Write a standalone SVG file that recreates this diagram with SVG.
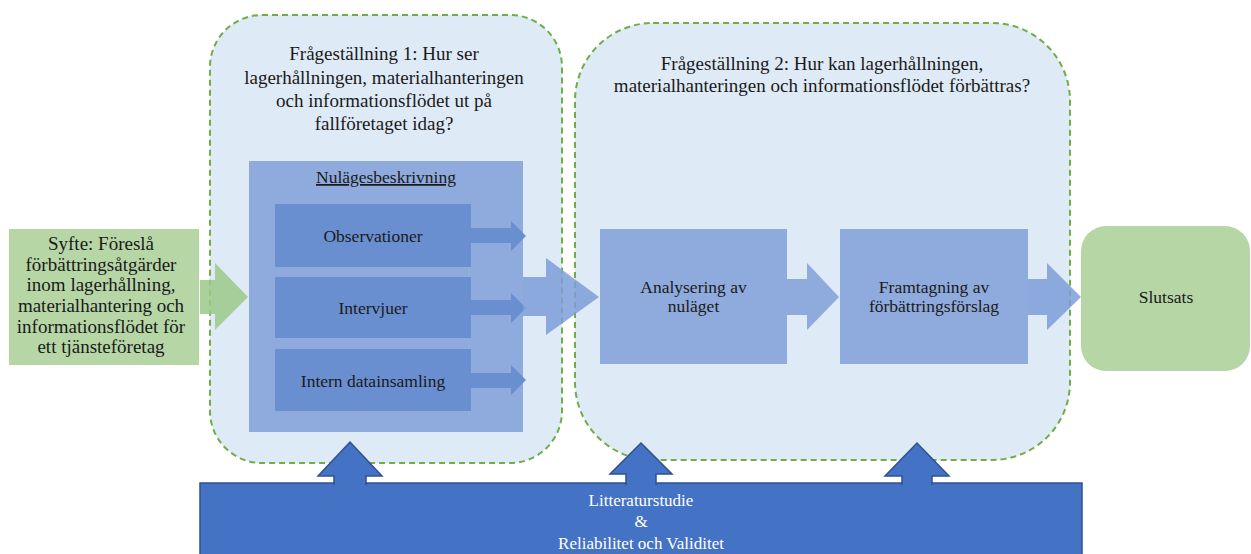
<svg xmlns="http://www.w3.org/2000/svg" width="1251" height="554" viewBox="0 0 1251 554">
<style>
text{font-family:"Liberation Serif","Times New Roman",serif;fill:#1a1a1a;text-anchor:middle}
.t19{font-size:19px}
.t17{font-size:17.5px}
.w{fill:#ffffff;font-size:17px}
.zone{fill:#DEEAF6;stroke:#70AD47;stroke-width:2;stroke-dasharray:6 4}
.mid{fill:#8FAADC}
.dark{fill:#6A8FD0}
.grn{fill:#B6D6A6}
.up{fill:#4472C4;stroke:#2F528F;stroke-width:1.5}
</style>
<rect width="1251" height="554" fill="#ffffff"/>
<g id="zone1"><rect class="zone" x="210" y="15" width="352" height="448" rx="52" ry="52"/>
<text class="t19" x="384" y="60">Frågeställning 1: Hur ser</text>
<text class="t19" x="384" y="84">lagerhållningen, materialhanteringen</text>
<text class="t19" x="384" y="107">och informationsflödet ut på</text>
<text class="t19" x="384" y="130">fallföretaget idag?</text></g>
<g id="zone2"><rect class="zone" x="575" y="23" width="495" height="437" rx="78" ry="78"/>
<text class="t19" x="822" y="70">Frågeställning 2: Hur kan lagerhållningen,</text>
<text class="t19" x="822" y="92">materialhanteringen och informationsflödet förbättras?</text></g>
<g id="syfte"><rect class="grn" x="9" y="229" width="190" height="136"/>
<text class="t19" x="101" y="250">Syfte: Föreslå</text>
<text class="t19" x="101" y="270.5">förbättringsåtgärder</text>
<text class="t19" x="101" y="291">inom lagerhållning,</text>
<text class="t19" x="101" y="312">materialhantering och</text>
<text class="t19" x="101" y="332.5">informationsflödet för</text>
<text class="t19" x="101" y="353">ett tjänsteföretag</text></g>
<g id="nulage"><rect class="mid" x="249" y="161" width="274" height="271"/>
<text class="t17" x="386" y="183" text-decoration="underline">Nulägesbeskrivning</text></g>
<g id="observationer"><rect class="dark" x="275" y="204" width="196" height="63"/>
<text class="t17" x="373" y="242">Observationer</text></g>
<g id="intervjuer"><rect class="dark" x="275" y="277" width="196" height="61"/>
<text class="t17" x="373" y="314">Intervjuer</text></g>
<g id="intern"><rect class="dark" x="275" y="349" width="196" height="62"/>
<text class="t17" x="373" y="386.5">Intern datainsamling</text></g>
<g id="analysering"><rect class="mid" x="600" y="229" width="187" height="135"/>
<text class="t17" x="693.5" y="292.5">Analysering av</text>
<text class="t17" x="693.5" y="311.5">nuläget</text></g>
<g id="framtagning"><rect class="mid" x="840" y="229" width="188" height="135"/>
<text class="t17" x="934" y="292.5">Framtagning av</text>
<text class="t17" x="934" y="311.5">förbättringsförslag</text></g>
<g id="slutsats"><rect class="grn" x="1081" y="226" width="169" height="145" rx="25" ry="25"/>
<text class="t17" x="1166" y="303">Slutsats</text></g>
<g id="litteratur"><rect fill="#4472C4" stroke="#2F528F" stroke-width="1.5" x="200" y="483" width="882" height="80"/>
<text class="w" x="641" y="506">Litteraturstudie</text>
<text class="w" x="641" y="527">&amp;</text>
<text class="w" x="641" y="549">Reliabilitet och Validitet</text></g>
<g id="connectors">
<polygon fill="#9CC98A" fill-opacity="0.85" points="200,280 215,280 215,263 248,297 215,330 215,314 200,314"/>
<polygon class="dark" points="471,228 511,228 511,221 526,236 511,251 511,243 471,243"/>
<polygon class="dark" points="471,300 511,300 511,293 526,308 511,323 511,315 471,315"/>
<polygon class="dark" points="471,373 511,373 511,365 526,380 511,395 511,388 471,388"/>
<polygon fill="#7E9ED8" fill-opacity="0.85" points="523,277 546,277 546,258 599,297 546,335 546,316 523,316"/>
<polygon class="mid" points="787,279 807,279 807,263 839,297 807,330 807,315 787,315"/>
<polygon fill="#7E9ED8" fill-opacity="0.85" points="1028,279 1047,279 1047,263 1081,297 1047,330 1047,315 1028,315"/>
<path class="up" d="M334,485 L334,476 L318,476 L350,442 L382,476 L366,476 L366,485"/>
<path class="up" d="M626,485 L626,474 L610,474 L641,443 L672,474 L656,474 L656,485"/>
<path class="up" d="M902,485 L902,476 L885,476 L917,443 L949,476 L932,476 L932,485"/>
</g>
</svg>
